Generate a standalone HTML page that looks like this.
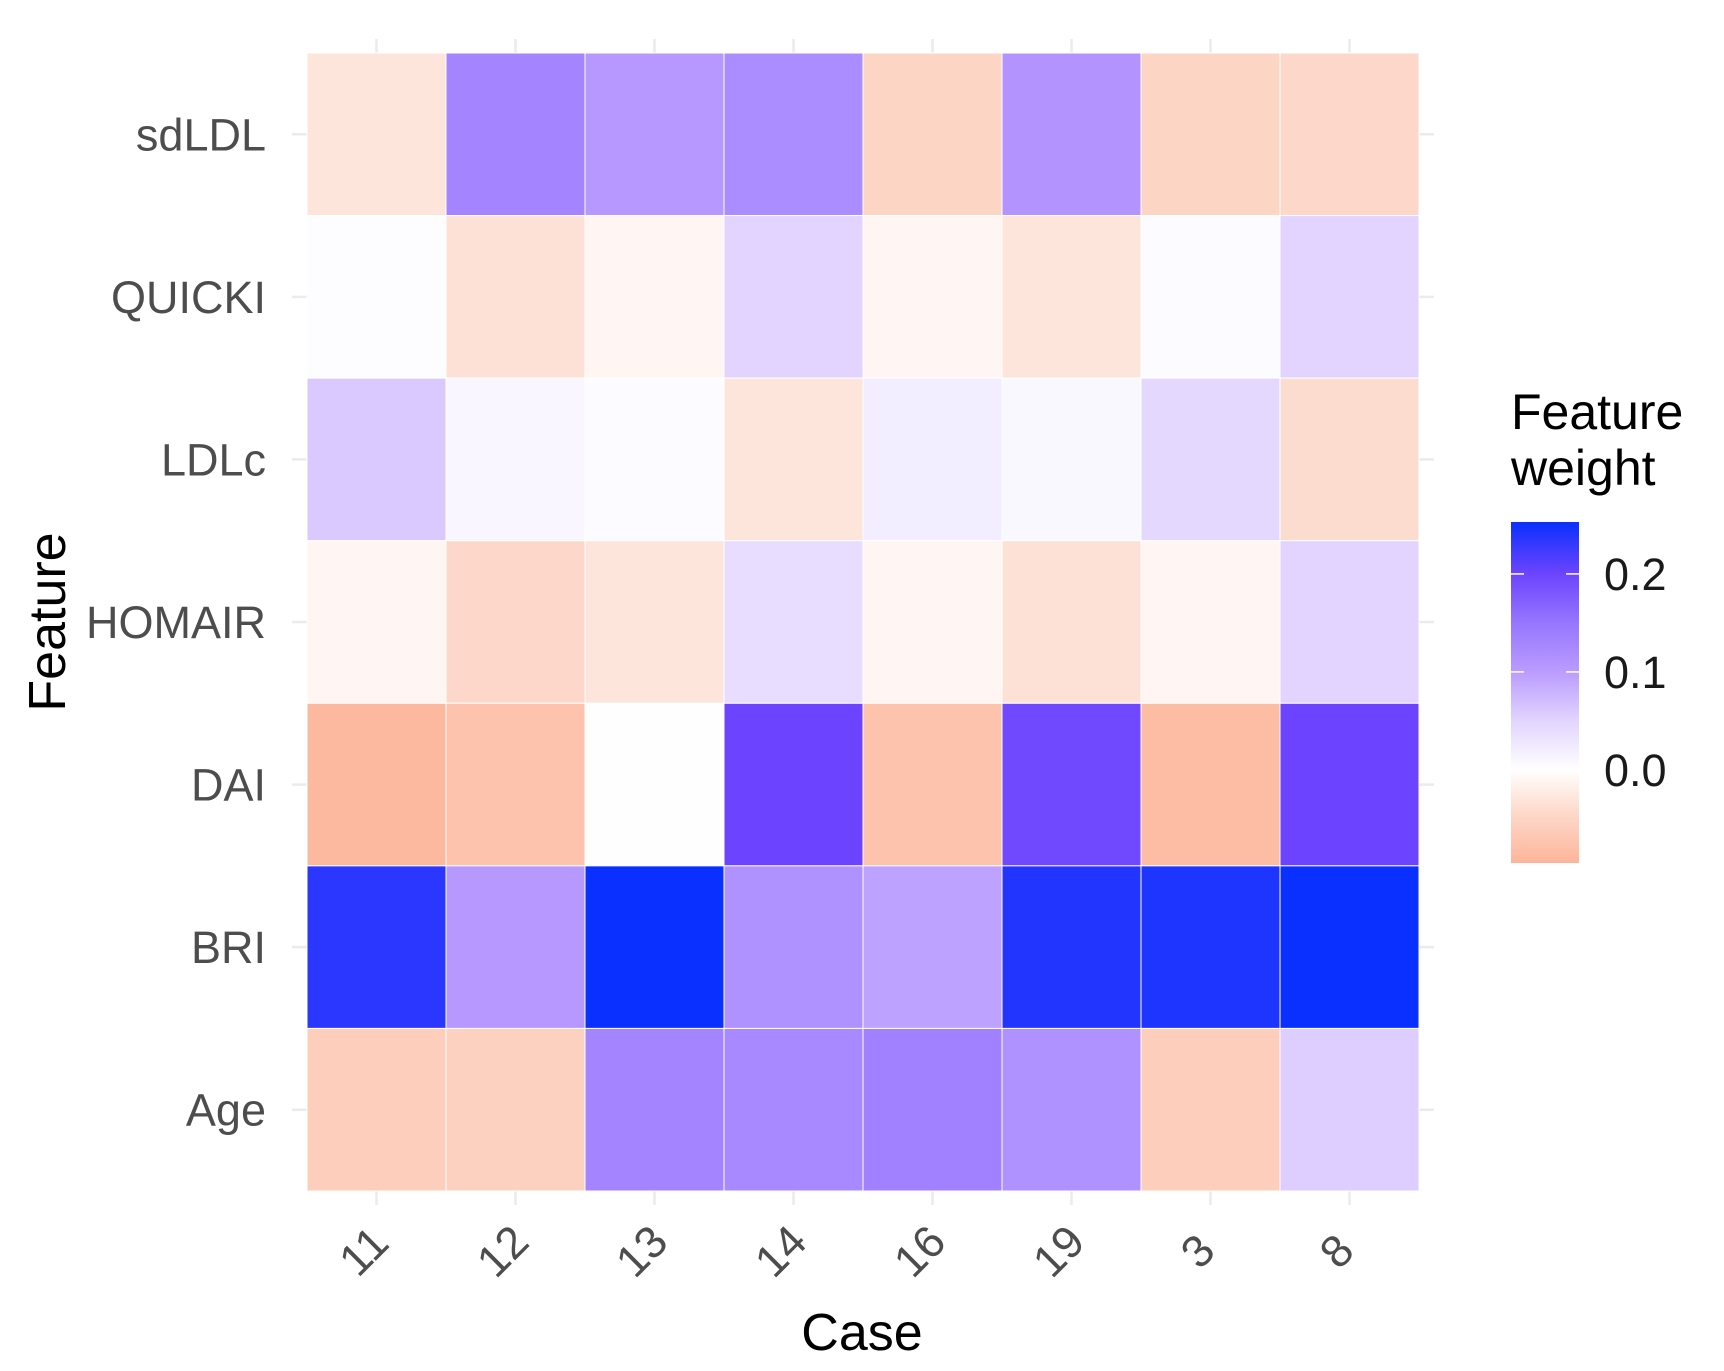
<!DOCTYPE html>
<html><head><meta charset="utf-8"><style>
body{margin:0;background:#fff}
svg{display:block;font-family:"Liberation Sans",Arial,sans-serif}
</style></head><body>
<svg id="chart" width="1724" height="1371" viewBox="0 0 1724 1371">
<defs>
<linearGradient id="lg" x1="0" y1="1" x2="0" y2="0">
<stop offset="0" stop-color="#fdb59a"/>
<stop offset="0.147" stop-color="#fdd9cb"/>
<stop offset="0.273" stop-color="#ffffff"/>
<stop offset="0.417" stop-color="#e2d4ff"/>
<stop offset="0.560" stop-color="#ba9cff"/>
<stop offset="0.704" stop-color="#9676ff"/>
<stop offset="0.848" stop-color="#6c44ff"/>
<stop offset="1" stop-color="#0a30ff"/>
</linearGradient>
</defs>
<g id="grid"></g>
<g id="tiles"></g>
<g id="axes"></g>
<text x="862" y="1350" font-size="52" text-anchor="middle" fill="#000">Case</text>
<text transform="translate(65,622) rotate(-90)" font-size="52" text-anchor="middle" fill="#000">Feature</text>
<g>
<text x="1511" y="429" font-size="50" fill="#000">Feature</text>
<text x="1511" y="485" font-size="50" fill="#000">weight</text>
<rect x="1511" y="522" width="68" height="341" fill="url(#lg)"/>
<g id="legticks"></g>
</g>
</svg>
<script>
const cases = ["11","12","13","14","16","19","3","8"];
const features = ["sdLDL","QUICKI","LDLc","HOMAIR","DAI","BRI","Age"];
const sdLDL  = [-0.03, 0.13, 0.105, 0.12, -0.05, 0.11, -0.05, -0.045];
const QUICKI = [0.003, -0.035, -0.01, 0.05, -0.01, -0.03, 0.005, 0.05];
const LDLc   = [0.06, 0.01, 0.005, -0.03, 0.02, 0.008, 0.045, -0.04];
const HOMAIR = [-0.01, -0.045, -0.03, 0.04, -0.01, -0.035, -0.01, 0.05];
const DAI    = [-0.09, -0.075, 0.002, 0.2, -0.075, 0.195, -0.085, 0.2];
const BRI    = [0.235, 0.105, 0.253, 0.115, 0.095, 0.24, 0.242, 0.253];
const Age    = [-0.06, -0.055, 0.13, 0.125, 0.135, 0.115, -0.06, 0.055];
const legendTicks = [0.0, 0.1, 0.2];
const legendTickLabels = ["0.0","0.1","0.2"];

const rows = [sdLDL, QUICKI, LDLc, HOMAIR, DAI, BRI, Age];
const NS = "http://www.w3.org/2000/svg";
const X0 = 307, X1 = 1419, Y0 = 53, Y1 = 1191;
const cw = (X1 - X0) / cases.length, rh = (Y1 - Y0) / features.length;
const xc = i => X0 + cw * (i + 0.5);
const yc = j => Y0 + rh * (j + 0.5);
const vmin = -0.095, vmax = 0.253;
const legY = v => 863 - (v - vmin) / (vmax - vmin) * 341;

const stops = [[-0.095,[253,181,154]],[-0.044,[253,217,203]],[0,[255,255,255]],[0.05,[226,212,255]],[0.1,[186,156,255]],[0.15,[150,118,255]],[0.2,[108,68,255]],[0.253,[10,48,255]]];
function color(v){
  v = Math.max(vmin, Math.min(vmax, v));
  for (let k = 0; k < stops.length - 1; k++){
    const [a,ca] = stops[k], [b,cb] = stops[k+1];
    if (v <= b){ const t = (v - a) / (b - a);
      return "rgb(" + ca.map((c,i)=>Math.round(c + (cb[i]-c)*t)).join(",") + ")"; }
  }
  return "rgb(10,48,255)";
}
function mk(tag, attrs, parent){
  const e = document.createElementNS(NS, tag);
  for (const k in attrs) e.setAttribute(k, attrs[k]);
  parent.appendChild(e); return e;
}
const grid = document.getElementById("grid");
cases.forEach((c,i)=>{
  const l = mk("line",{x1:xc(i),x2:xc(i),y1:39,y2:1205,stroke:"#ebebeb","stroke-width":2.5},grid);
  
  
});
features.forEach((f,j)=>{
  const l = mk("line",{x1:292,x2:1434,y1:yc(j),y2:yc(j),stroke:"#ebebeb","stroke-width":2.5},grid);
  
  
});
const tiles = document.getElementById("tiles");
rows.forEach((row,j)=>{
  row.forEach((v,i)=>{
    const r = mk("rect",{x:X0+cw*i,y:Y0+rh*j,width:cw,height:rh,fill:color(v),stroke:"#ffffff","stroke-width":1},tiles);
    
    
  });
});
const axes = document.getElementById("axes");
features.forEach((f,j)=>{
  const t = mk("text",{x:266,y:yc(j)+16,"font-size":45,"text-anchor":"end",fill:"#4d4d4d"},axes);
  t.textContent = f;
  
  
});
cases.forEach((c,i)=>{
  const t = mk("text",{x:0,y:0,"font-size":45,"text-anchor":"middle",fill:"#4d4d4d",transform:"translate("+(xc(i)-2)+",1262) rotate(-45)"},axes);
  t.textContent = c;
  
  
});
const lt = document.getElementById("legticks");
legendTicks.forEach((v,k)=>{
  const y = legY(v);
  const a = mk("line",{x1:1511,x2:1524,y1:y,y2:y,stroke:"#fff","stroke-width":1.5},lt);
  
  
  const b = mk("line",{x1:1566,x2:1579,y1:y,y2:y,stroke:"#fff","stroke-width":1.5},lt);
  
  
  const t = mk("text",{x:1604,y:y+16,"font-size":45,fill:"#1a1a1a"},lt);
  t.textContent = legendTickLabels[k];
  
  
});
</script>
</body></html>
